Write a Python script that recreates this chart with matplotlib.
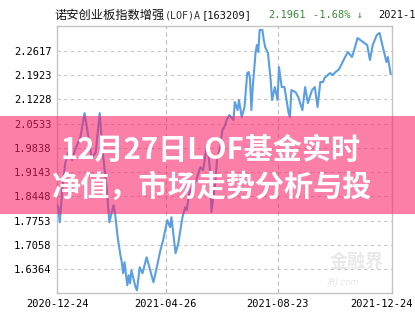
import matplotlib
matplotlib.use("Agg")
import matplotlib.pyplot as plt
from matplotlib.patches import Rectangle
from matplotlib.transforms import offset_copy

# ---- data ----
day_index = [0, 1, 2, 4, 6, 8, 11, 13, 17, 20, 22, 25, 28, 31, 33, 36, 38, 41, 42, 44,
             46, 47, 48, 49, 51, 52, 53, 54, 57, 58, 60, 62, 65, 67, 70, 73, 75, 77, 80, 82,
             83, 86, 88, 91, 93, 94, 96, 98, 101, 104, 106, 109, 111, 112, 115, 116, 118, 120, 122, 123,
             125, 128, 129, 131, 132, 134, 136, 138, 139, 140, 141, 142, 144, 145, 146, 147, 149, 150, 151, 152,
             153, 155, 156, 158, 160, 161, 162, 163, 165, 168, 169, 170, 173, 175, 178, 180, 182, 185, 187, 189,
             191, 193, 194, 198, 200, 202, 204, 205, 209, 211, 214, 216, 218, 220, 222, 225, 227, 229, 232, 234,
             236, 239, 240, 242]
nav = [1.8194, 1.8137, 1.7706, 1.8711, 1.9400, 1.9688, 1.9487, 1.9774, 2.0147, 2.0836,
       2.0348, 1.9573, 1.9688, 2.0836, 1.9774, 1.8711, 1.7706, 1.8194, 1.7993, 1.7275,
       1.6758, 1.6557, 1.6241, 1.6557, 1.5897, 1.6184, 1.5954, 1.6327, 1.5839, 1.5753,
       1.6413, 1.6241, 1.6701, 1.6413, 1.5983, 1.6528, 1.6902, 1.7189, 1.7763, 1.7562,
       1.7849, 1.6816, 1.7103, 1.7849, 1.8137, 1.8051, 1.8539, 1.8711, 1.8912, 1.9285,
       1.9199, 1.9975, 1.9199, 1.7993, 1.8912, 1.9487, 1.9774, 2.0348, 2.0492, 2.0635,
       2.0779, 2.0635, 2.1152, 2.0923, 2.1210, 2.0721, 2.1009, 2.1985, 2.2014, 2.1842,
       2.0923, 2.1583, 2.2560, 2.2789, 2.2588, 2.3220, 2.3220, 2.2933, 2.2732, 2.2646,
       2.2560, 2.1784, 2.1210, 2.1583, 2.1210, 2.2157, 2.1870, 2.1583, 2.1583, 2.0836,
       2.0721, 2.1497, 2.1439, 2.1296, 2.0923, 2.1583, 2.1124, 2.1497, 2.1583, 2.1009,
       2.1727, 2.1727, 2.1842, 2.1985, 2.1928, 2.2014, 2.2071, 2.2129, 2.2445, 2.2588,
       2.2445, 2.2703, 2.2990, 2.2933, 2.2875, 2.2789, 2.2359, 2.2789, 2.3077, 2.3134,
       2.2789, 2.2301, 2.2445, 2.1961]

y_ticks = [1.6364, 1.7058, 1.7753, 1.8448, 1.9143, 1.9838, 2.0533, 2.1228, 2.1923, 2.2617]
y_tick_labels = ["1.6364", "1.7058", "1.7753", "1.8448", "1.9143", "1.9838", "2.0533", "2.1228", "2.1923", "2.2617"]
x_tick_pos = [0, 79, 160, 243]
x_tick_labels = ["2020-12-24", "2021-04-26", "2021-08-23", "2021-12-24"]

fund_name = "诺安创业板指数增强"
fund_suffix = "(LOF)A"
fund_code = "[163209]"
last_nav = "2.1961"
change = "-1.68% ↓"
date_text = "2021-12-24"
headline1 = "12月27日LOF基金实时"
headline2 = "净值，市场走势分析与投"

W, H = 415, 330
fig = plt.figure(figsize=(W / 100, H / 100), dpi=100)
fig.patch.set_facecolor("white")
ax = fig.add_axes([57 / W, 1 - 293 / H, (392 - 57) / W, (293 - 26) / H])

mono = ["DejaVu Sans Mono", "Noto Sans CJK SC"]

ax.plot(day_index, nav, color="#5a9fe3", lw=1.5, solid_joinstyle="round", zorder=3)
ax.set_xlim(0, 243)
ax.set_ylim(1.5675, 2.3335)

ax.set_yticks(y_ticks)
ax.set_yticklabels(y_tick_labels, family=mono, fontsize=7.5)
ax.set_xticks(x_tick_pos)
ax.set_xticklabels(x_tick_labels, family=mono, fontsize=7.5)
ax.tick_params(length=0, pad=4)
labels = ax.get_xticklabels()
labels[-1].set_transform(offset_copy(labels[-1].get_transform(), fig=fig, x=-11, y=0, units="dots"))

for v in y_ticks:
    ax.axhline(v, color="#c8c8c8", lw=0.8, ls=(0, (3, 3)), zorder=1)
for p in x_tick_pos[1:3]:
    ax.axvline(p, color="#c0c0c0", lw=0.8, ls=(0, (4, 3)), zorder=1)
for s in ax.spines.values():
    s.set_color("#c4c4c4")
    s.set_linewidth(1.0)

# watermark
ax.text(0.895, 0.12, "金融界", transform=ax.transAxes, ha="center", va="center",
        fontsize=13, fontweight="bold", color="#e9e9e9", family=["Noto Sans CJK SC"], zorder=2)
ax.text(0.855, 0.04, "JRJ.com", transform=ax.transAxes, ha="center", va="center",
        fontsize=6, fontstyle="italic", color="#e6e6e6", zorder=2)

# header
def px(x, y):
    return x / W, 1 - y / H

fig.text(*px(54, 15), fund_name, fontsize=8.8, family=["Noto Sans CJK SC"], va="center", ha="left", color="#111111")
fig.text(*px(165, 15), fund_suffix, fontsize=7.2, family=mono, va="center", ha="left", color="#333333")
fig.text(*px(202, 15), fund_code, fontsize=7.5, family=mono, va="center", ha="left", color="#111111")
fig.text(*px(268, 15), last_nav, fontsize=7.5, family=mono, va="center", ha="left", color="#3a8a3a")
fig.text(*px(313, 15), change, fontsize=7.5, family=mono, va="center", ha="left", color="#3a8a3a")
fig.text(*px(378, 15), date_text, fontsize=7.5, family=mono, va="center", ha="left", color="#111111")

# pink banner
fig.patches.append(Rectangle(px(0, 214), 1, 98 / H, transform=fig.transFigure,
                             facecolor=(0.98, 0.12, 0.40), alpha=0.57, edgecolor="none", zorder=10))
fig.text(*px(211, 150), headline1, fontsize=21, fontweight="bold", color="white",
         family=["Noto Sans CJK SC"], ha="center", va="center", zorder=11)
fig.text(*px(212, 187), headline2, fontsize=21, fontweight="bold", color="white",
         family=["Noto Sans CJK SC"], ha="center", va="center", zorder=11)

fig.savefig("out.png", dpi=100)
